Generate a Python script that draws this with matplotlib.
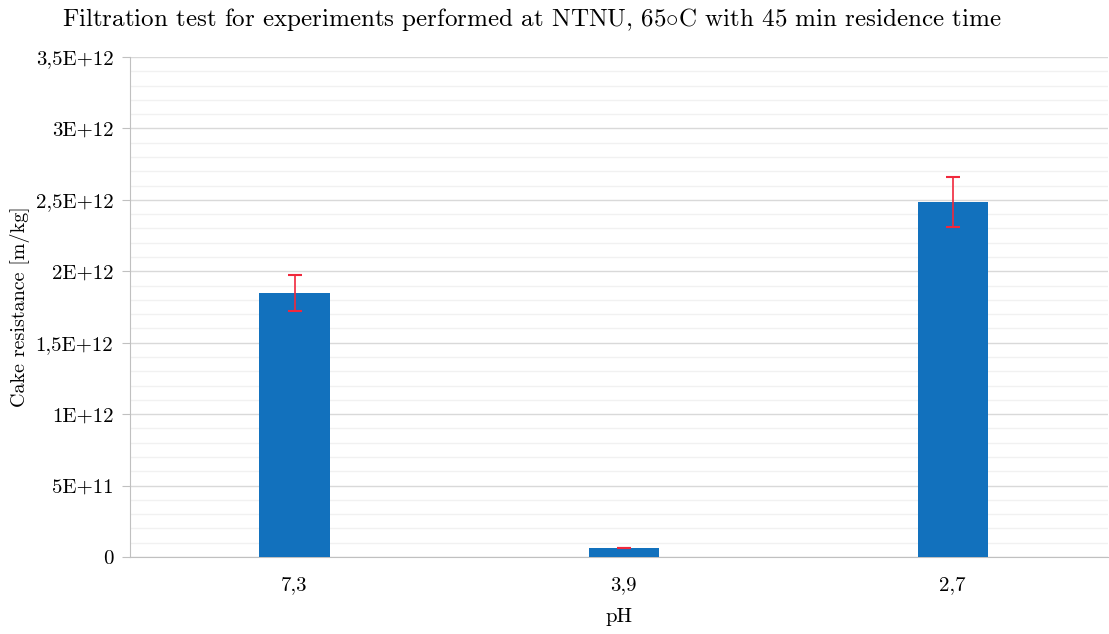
import matplotlib
matplotlib.use('Agg')
import matplotlib.pyplot as plt
import numpy as np

# Filtration results, NTNU, 65 C / 45 min
ph_labels = ['7,3', '3,9', '2,7']
resistance = [1.848e12, 0.063e12, 2.485e12]
resistance_err = [0.126e12, 0.003e12, 0.175e12]

ytick_vals = [0, 0.5e12, 1e12, 1.5e12, 2e12, 2.5e12, 3e12, 3.5e12]
ytick_labels = ['0', '5E+11', '1E+12', '1,5E+12', '2E+12', '2,5E+12', '3E+12', '3,5E+12']

plt.rcParams['font.family'] = ['cmr10', 'DejaVu Serif']
plt.rcParams['mathtext.fontset'] = 'cm'
plt.rcParams['axes.formatter.use_mathtext'] = True

fig = plt.figure(figsize=(11.09, 6.34), dpi=100)
ax = fig.add_axes([130/1109, 1-557/634, (1108-130)/1109, 500/634])

x = np.arange(len(ph_labels))
ax.bar(x, resistance, width=0.213, color='#1271bd', zorder=3)
ax.errorbar(x, resistance, yerr=resistance_err, fmt='none', ecolor='#f0283c',
            elinewidth=1.2, capsize=5, capthick=1.5, zorder=4)

ax.set_xlim(-0.5, 2.472)
ax.set_ylim(0, 3.5e12)
ax.set_yticks(ytick_vals)
ax.set_yticklabels(ytick_labels)
ax.set_yticks(np.arange(0, 3.5e12 + 1, 1e11), minor=True)
ax.set_xticks(x)
ax.set_xticklabels(ph_labels)

ax.grid(axis='y', which='major', color='#d9d9d9', linewidth=1, zorder=0)
ax.grid(axis='y', which='minor', color='#f1f1f1', linewidth=1, zorder=0)
ax.tick_params(axis='y', which='major', length=6, color='#c0c0c0', labelsize=15, pad=6)
ax.tick_params(axis='y', which='minor', length=0)
ax.tick_params(axis='x', length=0, labelsize=15, pad=14)

for side in ['top', 'right']:
    ax.spines[side].set_visible(False)
for side in ['left', 'bottom']:
    ax.spines[side].set_color('#c0c0c0')

ax.set_xlabel('pH', fontsize=15, labelpad=10)
ax.set_ylabel('Cake resistance [m/kg]', fontsize=14.5, labelpad=4)
fig.suptitle(r'Filtration test for experiments performed at NTNU, 65$\circ$C with 45 min residence time',
             fontsize=18, x=0.48, y=0.99)

fig.savefig('out.png', dpi=100)
